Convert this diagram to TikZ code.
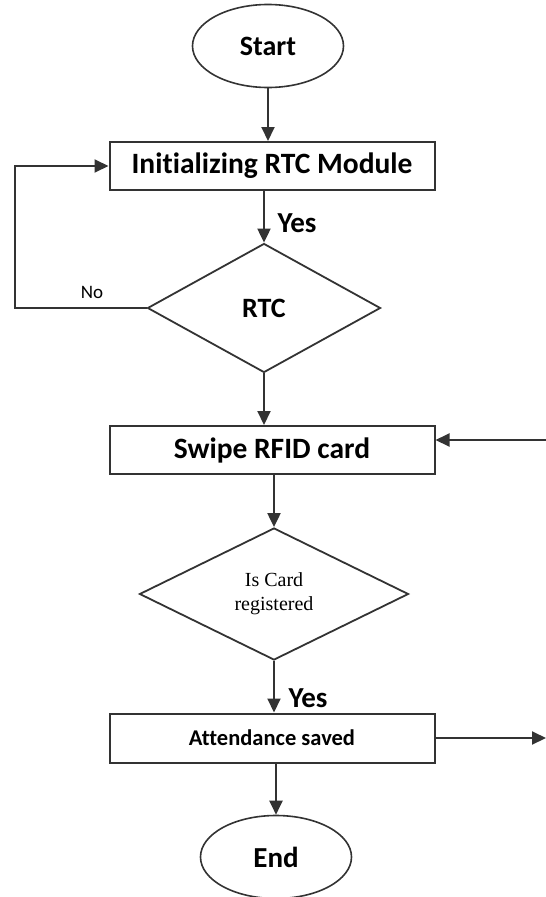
\documentclass[tikz,border=0pt]{standalone}
\usepackage{fontspec}
\setmainfont{Carlito}[Ligatures=NoCommon]
\newfontfamily\serifcard{Liberation Serif}
\usetikzlibrary{positioning, arrows.meta, shapes.geometric}
\definecolor{linecol}{rgb}{0.20, 0.20, 0.20}
\tikzset{
  terminal/.style={ellipse, draw=linecol, line width=1.6pt,
                   minimum width=151pt, minimum height=83pt, inner sep=0pt,
                   font=\fontsize{28}{30}\selectfont\bfseries},
  process/.style={rectangle, draw=linecol, line width=2pt,
                  minimum width=325pt, minimum height=48pt, inner sep=0pt,
                  font=\fontsize{29.5}{30}\selectfont\bfseries},
  decision/.style={diamond, draw=linecol, line width=1.8pt, inner sep=0pt,
                   align=center},
  branch/.style={font=\fontsize{29}{30}\selectfont\bfseries, inner sep=0pt},
  arr/.style={-{Triangle[length=14pt, width=13pt]}, line width=2pt, linecol},
}
\begin{document}
\begin{tikzpicture}[x=1pt, y=-1pt]
    \useasboundingbox (0,0) rectangle (546,897);

    \node[terminal] (start) at (268,46) {Start};
    \node[process] (init) at (272,166) {Initializing RTC Module};
    \node[decision, minimum width=233pt, minimum height=129pt,
          font=\fontsize{28}{30}\selectfont\bfseries] (rtc) at (264,308) {RTC};
    \node[process] (swipe) at (272,450) {Swipe RFID card};
    \node[decision, minimum width=269pt, minimum height=132pt,
          font=\fontsize{20}{24}\selectfont\serifcard] (card) at (274,594) {Is Card\\registered};
    \node[process, minimum height=49pt, font=\fontsize{22.5}{26}\selectfont\bfseries] (att) at (272,738) {Attendance saved};
    \node[terminal, font=\fontsize{29}{30}\selectfont\bfseries] (end) at (276,857) {End};

    \node[branch] (yes1) at (297,223) {Yes};
    \node[branch, font=\fontsize{19}{22}\selectfont] (no1) at (92,292) {No};
    \node[branch] (yes2) at (308,698) {Yes};

    \coordinate (loop) at (15,0);
    \coordinate (inR) at (546,440);
    \coordinate (outR) at (546,738);

    \draw[arr] (start.south) -- (start.south |- init.north);
    \draw[arr] (rtc.north |- init.south) -- (rtc.north);
    \draw[arr] (rtc.west) -| (loop |- init.west) -- (init.west);
    \draw[arr] (rtc.south) -- (rtc.south |- swipe.north);
    \draw[arr] (inR) -- (inR -| swipe.east);
    \draw[arr] (card.north |- swipe.south) -- (card.north);
    \draw[arr] (card.south) -- (card.south |- att.north);
    \draw[arr] (att.east) -- (outR);
    \draw[arr] (end.north |- att.south) -- (end.north);
\end{tikzpicture}
\end{document}
